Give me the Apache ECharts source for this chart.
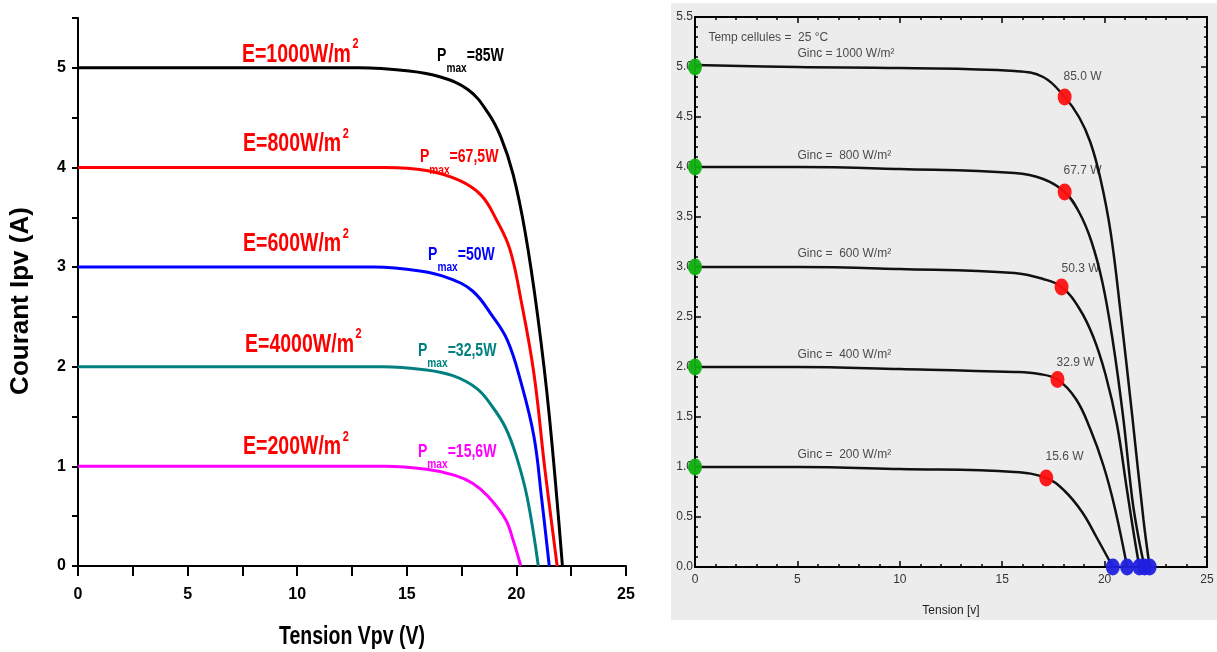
<!DOCTYPE html>
<html>
<head>
<meta charset="utf-8">
<script src="https://cdn.jsdelivr.net/npm/echarts@6/dist/echarts.min.js"></script>
<style>
  html, body { margin: 0; padding: 0; background: #fff; }
  #chart { width: 1217px; height: 652px; }
</style>
</head>
<body>
<div id="chart"></div>
<script>
// ---- left panel: simulated I-V curves ----
const left1000V = [0, 5, 10, 12.8, 15.0, 16.5, 17.8, 18.7, 19.3, 19.85, 20.4, 20.97, 21.5, 22.1];
const left1000I = [5, 5, 5, 5, 4.97, 4.91, 4.78, 4.55, 4.30, 3.93, 3.35, 2.51, 1.51, 0];
const left800V = [0, 5, 10, 14, 15.9, 17.4, 18.4, 19.1, 19.7, 20.2, 20.8, 21.3, 21.86];
const left800I = [4, 4, 4, 4, 3.97, 3.87, 3.72, 3.47, 3.18, 2.68, 1.93, 0.97, 0];
const left600V = [0, 5, 10, 13.5, 15.6, 16.9, 18.0, 18.9, 19.6, 20.2, 20.8, 21.15, 21.5];
const left600I = [3, 3, 3, 3, 2.96, 2.89, 2.76, 2.51, 2.26, 1.85, 1.30, 0.68, 0];
const left400V = [0, 5, 10, 13.9, 15.8, 17.1, 18.2, 18.9, 19.5, 20.0, 20.5, 21.0];
const left400I = [2, 2, 2, 2, 1.97, 1.91, 1.78, 1.60, 1.39, 1.10, 0.68, 0];
const left200V = [0, 5, 10, 14, 15.9, 17.2, 18.0, 18.7, 19.5, 19.85, 20.2];
const left200I = [1, 1, 1, 1, 0.97, 0.91, 0.83, 0.70, 0.47, 0.26, 0];

const leftColors = ["#000000", "#ff0000", "#0000ff", "#008080", "#ff00ff"];
const leftIrrText = ["E=1000W/m", "E=800W/m", "E=600W/m", "E=4000W/m", "E=200W/m"];
const leftPmaxText = ["=85W", "=67,5W", "=50W", "=32,5W", "=15,6W"];

// ---- right panel: measured I-V curves ----
const right1000V = [0, 5, 10, 15.6, 17.0, 18.05, 18.75, 19.3, 19.8, 20.3, 20.8, 21.35, 21.9, 22.2];
const right1000I = [5.02, 5.0, 4.99, 4.96, 4.90, 4.70, 4.50, 4.25, 3.88, 3.34, 2.51, 1.51, 0.47, 0];
const right800V = [0, 5, 10, 15.6, 17.0, 18.05, 18.75, 19.35, 19.9, 20.4, 20.9, 21.35, 21.65, 21.95];
const right800I = [4.0, 4.0, 3.98, 3.94, 3.88, 3.75, 3.55, 3.26, 2.84, 2.26, 1.51, 0.68, 0.3, 0];
const right600V = [0, 5, 10, 15.6, 17.0, 17.9, 18.75, 19.45, 20.05, 20.6, 21.1, 21.45, 21.7];
const right600I = [3.0, 3.0, 2.98, 2.94, 2.88, 2.80, 2.59, 2.30, 1.92, 1.43, 0.76, 0.3, 0];
const right400V = [0, 5, 10, 15.6, 16.8, 17.7, 18.6, 19.3, 19.95, 20.5, 21.1];
const right400I = [2.0, 2.0, 1.98, 1.95, 1.93, 1.875, 1.68, 1.38, 1.01, 0.59, 0];
const right200V = [0, 5, 10, 15.6, 17.15, 18.05, 18.9, 19.6, 20.4];
const right200I = [1.0, 1.0, 0.98, 0.95, 0.89, 0.76, 0.55, 0.30, 0];

const iscI = [5, 4, 3, 2, 1];
const mppV = [18.05, 18.05, 17.9, 17.7, 17.15];
const mppI = [4.70, 3.75, 2.80, 1.875, 0.89];
const vocV = [22.2, 21.95, 21.7, 21.1, 20.4];

const rightIrrText = ["Ginc = 1000 W/m²", "Ginc =  800 W/m²", "Ginc =  600 W/m²", "Ginc =  400 W/m²", "Ginc =  200 W/m²"];
const rightPmaxText = ["85.0 W", "67.7 W", "50.3 W", "32.9 W", "15.6 W"];
const tempText = "Temp cellules =  25 °C";

// label anchors in data units (left edge, vertical middle)
const leftIrrPos = [[7.48, 5.13], [7.53, 4.23], [7.53, 3.23], [7.62, 2.22], [7.53, 1.19]];
const leftPmaxPos = [[16.38, 5.12], [15.6, 4.1], [15.97, 3.12], [15.51, 2.16], [15.51, 1.14]];
const rightIrrPos = [[4.98, 5.13], [4.98, 4.11], [4.98, 3.13], [4.98, 2.12], [4.98, 1.12]];
const rightPmaxPos = [[17.97, 4.90], [17.97, 3.96], [17.87, 2.98], [17.63, 2.04], [17.09, 1.10]];

const SANS = "'Liberation Sans', Arial, sans-serif";
const SQUEEZE = 0.78; // the left figure is horizontally compressed

const zip = (xs, ys) => xs.map((x, i) => [x, ys[i]]);

const leftCurves = [
  zip(left1000V, left1000I), zip(left800V, left800I), zip(left600V, left600I),
  zip(left400V, left400I), zip(left200V, left200I)
];
const rightCurves = [
  zip(right1000V, right1000I), zip(right800V, right800I), zip(right600V, right600I),
  zip(right400V, right400I), zip(right200V, right200I)
];

const series = [];

leftCurves.forEach((d, i) => {
  series.push({
    type: "line", xAxisIndex: 0, yAxisIndex: 0, data: d,
    showSymbol: false, smooth: 0.4, silent: true,
    lineStyle: { color: leftColors[i], width: 3 }, z: 3
  });
});

rightCurves.forEach((d) => {
  series.push({
    type: "line", xAxisIndex: 1, yAxisIndex: 1, data: d,
    showSymbol: false, smooth: 0.4, silent: true,
    lineStyle: { color: "#111", width: 2.5 }, z: 3
  });
});

const dot = (data, color) => ({
  type: "scatter", xAxisIndex: 1, yAxisIndex: 1, data, clip: false, silent: true,
  symbol: "circle", symbolSize: [14, 17], itemStyle: { color, opacity: 0.95 }, z: 5
});
series.push(dot(iscI.map((v) => [0, v]), "#10b010"));
series.push(dot(mppV.map((v, i) => [v, mppI[i]]), "#ff1010"));
series.push(dot(vocV.map((v) => [v, 0]), "#2020e0"));

series.push({
  type: "scatter", xAxisIndex: 1, yAxisIndex: 1, symbolSize: 1, silent: true,
  itemStyle: { color: "transparent" },
  data: rightIrrPos.map((p, i) => ({ value: p, name: rightIrrText[i] }))
    .concat(rightPmaxPos.map((p, i) => ({ value: p, name: rightPmaxText[i] })))
    .concat([{ value: [0.63, 5.29], name: tempText }]),
  label: {
    show: true, position: "right", distance: 0, formatter: (p) => p.name,
    fontFamily: SANS, fontSize: 12, color: "#222"
  }
});

const chart = echarts.init(document.getElementById("chart"));
const panelRect = {
  type: "rect", z: -10, silent: true,
  shape: { x: 671, y: 3, width: 546, height: 617 },
  style: { fill: "#ececec" }
};

chart.setOption({
  animation: false,
  backgroundColor: "#ffffff",
  graphic: [panelRect],
  grid: [
    { left: 78, right: 591, top: 18, bottom: 86 },
    { left: 695, right: 10, top: 17, bottom: 85 }
  ],
  xAxis: [
    {
      gridIndex: 0, type: "value", min: 0, max: 25, interval: 5,
      axisLine: { show: true, onZero: false, lineStyle: { color: "#000", width: 2 } },
      axisTick: { show: true, length: 10, lineStyle: { color: "#000", width: 2 } },
      minorTick: { show: true, splitNumber: 2, length: 10, lineStyle: { color: "#000", width: 2 } },
      axisLabel: { margin: 21, fontFamily: SANS, fontSize: 16, fontWeight: "bold", color: "#000" },
      splitLine: { show: false }
    },
    {
      gridIndex: 1, type: "value", min: 0, max: 25, interval: 5,
      name: "Tension [v]", nameLocation: "middle", nameGap: 38,
      nameTextStyle: { fontFamily: SANS, fontSize: 12, color: "#222" },
      axisLine: { show: true, onZero: false, lineStyle: { color: "#000", width: 2 } },
      axisTick: { show: true, inside: true, length: 6, lineStyle: { color: "#000", width: 1.5 } },
      minorTick: { show: true, splitNumber: 5, length: 3, lineStyle: { color: "#000", width: 1.5 } },
      axisLabel: { margin: 7, fontFamily: SANS, fontSize: 12, color: "#333" },
      splitLine: { show: false }
    },
    {
      gridIndex: 1, type: "value", position: "top", min: 0, max: 25, interval: 5,
      axisLine: { show: true, onZero: false, lineStyle: { color: "#000", width: 2 } },
      axisTick: { show: true, inside: true, length: 6, lineStyle: { color: "#000", width: 1.5 } },
      minorTick: { show: true, splitNumber: 5, length: 3, lineStyle: { color: "#000", width: 1.5 } },
      axisLabel: { show: false }, splitLine: { show: false }
    }
  ],
  yAxis: [
    {
      gridIndex: 0, type: "value", min: 0, max: 5.5, interval: 1,
      name: "Courant Ipv (A)", nameLocation: "middle", nameGap: 44,
      nameTextStyle: { fontFamily: SANS, fontSize: 26, fontWeight: "bold", color: "#000", padding: [0, 18, 0, 0] },
      axisLine: { show: true, onZero: false, lineStyle: { color: "#000", width: 2 } },
      axisTick: { show: true, length: 6, lineStyle: { color: "#000", width: 2 } },
      minorTick: { show: true, splitNumber: 2, length: 6, lineStyle: { color: "#000", width: 2 } },
      axisLabel: {
        margin: 12, fontFamily: SANS, fontSize: 16, fontWeight: "bold", color: "#000",
        formatter: (v) => (Number.isInteger(v) ? String(v) : "")
      },
      splitLine: { show: false }
    },
    {
      gridIndex: 1, type: "value", min: 0, max: 5.5, interval: 0.5,
      axisLine: { show: true, onZero: false, lineStyle: { color: "#000", width: 2 } },
      axisTick: { show: true, inside: true, length: 6, lineStyle: { color: "#000", width: 1.5 } },
      minorTick: { show: true, splitNumber: 5, length: 3, lineStyle: { color: "#000", width: 1.5 } },
      axisLabel: { margin: 2, fontFamily: SANS, fontSize: 12, color: "#333", formatter: (v) => v.toFixed(1) },
      splitLine: { show: false }
    },
    {
      gridIndex: 1, type: "value", position: "right", min: 0, max: 5.5, interval: 0.5,
      axisLine: { show: true, onZero: false, lineStyle: { color: "#000", width: 2 } },
      axisTick: { show: true, inside: true, length: 6, lineStyle: { color: "#000", width: 1.5 } },
      minorTick: { show: true, splitNumber: 5, length: 3, lineStyle: { color: "#000", width: 1.5 } },
      axisLabel: { show: false }, splitLine: { show: false }
    }
  ],
  series: series
});

// left-panel annotations: placed from data coordinates, squeezed horizontally like the source figure
const toPx = (p) => chart.convertToPixel({ xAxisIndex: 0, yAxisIndex: 0 }, p);
const squeezedText = (p, text, rich) => {
  const pt = toPx(p);
  return {
    type: "text", silent: true, z: 10, x: pt[0], y: pt[1], scaleX: SQUEEZE,
    style: { text, rich, align: "left", verticalAlign: "middle" }
  };
};
const labels = [panelRect];
leftIrrPos.forEach((p, i) => {
  labels.push(squeezedText(p, "{t|" + leftIrrText[i] + "}{s|2}", {
    t: { fontFamily: SANS, fontSize: 25, fontWeight: "bold", fill: "#ff0000", lineHeight: 25, verticalAlign: "bottom" },
    s: { fontFamily: SANS, fontSize: 14, fontWeight: "bold", fill: "#ff0000", lineHeight: 14, padding: [0, 0, 16, 2], verticalAlign: "bottom" }
  }));
});
leftPmaxPos.forEach((p, i) => {
  const c = leftColors[i];
  labels.push(squeezedText(p, "{p|P}{m|max}{p|" + leftPmaxText[i] + "}", {
    p: { fontFamily: SANS, fontSize: 18, fontWeight: "bold", fill: c, lineHeight: 18, verticalAlign: "top" },
    m: { fontFamily: SANS, fontSize: 13, fontWeight: "bold", fill: c, lineHeight: 13, padding: [15, 0, 0, 0], verticalAlign: "top" }
  }));
});
const xTitle = toPx([12.5, 0]);
labels.push({
  type: "text", silent: true, x: xTitle[0], y: xTitle[1] + 71, scaleX: SQUEEZE,
  style: { text: "Tension Vpv (V)", fontFamily: SANS, fontSize: 25, fontWeight: "bold", fill: "#000", align: "center", verticalAlign: "middle" }
});
chart.setOption({ graphic: labels });
</script>
</body>
</html>
